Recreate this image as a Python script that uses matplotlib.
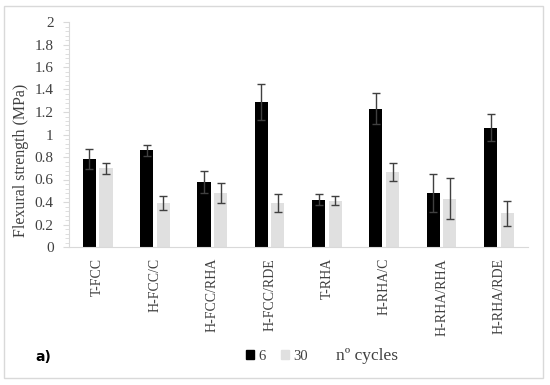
import matplotlib
matplotlib.use("Agg")
import matplotlib.pyplot as plt
from matplotlib.patches import Rectangle, Patch
from matplotlib.ticker import MultipleLocator
import numpy as np

categories = ["T-FCC", "H-FCC/C", "H-FCC/RHA", "H-FCC/RDE", "T-RHA", "H-RHA/C", "H-RHA/RHA", "H-RHA/RDE"]
vals_6 = [0.78, 0.86, 0.58, 1.29, 0.42, 1.23, 0.48, 1.06]
err_6 = [0.09, 0.05, 0.10, 0.16, 0.05, 0.14, 0.17, 0.12]
vals_30 = [0.70, 0.39, 0.48, 0.39, 0.41, 0.67, 0.43, 0.30]
err_30 = [0.05, 0.06, 0.09, 0.08, 0.04, 0.08, 0.18, 0.11]
series_labels = ["6", "30"]

plt.rcParams['font.family'] = ['Liberation Serif', 'DejaVu Serif']

fig = plt.figure(figsize=(5.5, 3.85), dpi=100)
W, H = 550, 385
x0, x1, y0, y1 = 69, 527.5, 247, 22
ax = fig.add_axes([x0 / W, 1 - y0 / H, (x1 - x0) / W, (y0 - y1) / H])

x = np.arange(len(categories))
off = 0.145
w = 0.23
ecol = "#404040"
ax.bar(x - off, vals_6, w, color="#000000", yerr=err_6,
       error_kw=dict(ecolor=ecol, elinewidth=1, capsize=3, capthick=1), zorder=2)
ax.bar(x + off, vals_30, w, color="#e0e0e0", yerr=err_30,
       error_kw=dict(ecolor=ecol, elinewidth=1, capsize=3, capthick=1), zorder=2)

ax.set_xlim(-0.5, len(categories) - 0.5)
ax.set_ylim(0, 2)
ax.yaxis.set_minor_locator(MultipleLocator(0.04))
ax.set_yticks(np.arange(0, 2.01, 0.2))
ax.set_yticklabels(["0", "0.2", "0.4", "0.6", "0.8", "1", "1.2", "1.4", "1.6", "1.8", "2"])
ax.set_xticks(x)
ax.set_xticklabels(categories, rotation=90, fontsize=10, color="#404040")
ax.tick_params(axis="x", length=0, pad=8)
ax.tick_params(axis="y", which="major", length=4, color="#d9d9d9", labelsize=11,
               labelcolor="#404040", pad=7)
ax.tick_params(axis="y", which="minor", length=3, color="#d9d9d9")

for s in ["top", "right"]:
    ax.spines[s].set_visible(False)
ax.spines["left"].set_color("#d9d9d9")
ax.spines["bottom"].set_color("#d9d9d9")

ax.set_ylabel("Flexural strength (MPa)", fontsize=11.5, color="#404040")
ax.yaxis.set_label_coords((29 - x0) / (x1 - x0), (y0 - 160) / (y0 - y1))

# outer frame
fig.patches.append(Rectangle((4 / W, 1 - 378 / H), (543 - 4) / W, (378 - 6) / H,
                             transform=fig.transFigure, fill=False,
                             edgecolor="#d9d9d9", linewidth=1))

handles = [Patch(color="#000000"), Patch(color="#e0e0e0")]
fig.legend(handles, series_labels, loc="center", bbox_to_anchor=(277 / W, 1 - 356 / H),
           ncol=2, frameon=False, fontsize=10.5, handlelength=0.6, handleheight=0.6,
           handletextpad=0.3, columnspacing=1.0, labelcolor="#404040")
fig.text(336 / W, 1 - 356 / H, "nº cycles", fontsize=12.5, color="#404040", va="center", ha="left")
fig.text(35 / W, 1 - 357 / H, "a)", fontsize=10, fontweight="bold", color="#000000",
         va="center", ha="left", family=["DejaVu Sans"])

fig.savefig("out.png", dpi=100)
